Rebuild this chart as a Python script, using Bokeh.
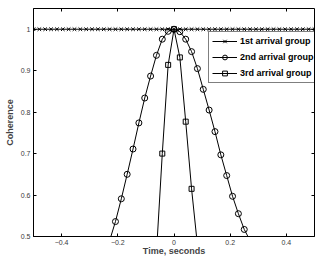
from bokeh.plotting import figure
from bokeh.models import LinearAxis, FixedTicker, Range1d, Legend, LegendItem
from bokeh.embed import file_html
from bokeh.resources import INLINE

# ---- data ----
t1 = [-0.5, -0.4792, -0.4583, -0.4375, -0.4167, -0.3958, -0.375, -0.3542, -0.3333,
      -0.3125, -0.2917, -0.2708, -0.25, -0.2292, -0.2083, -0.1875, -0.1667, -0.1458,
      -0.125, -0.1042, -0.0833, -0.0625, -0.0417, -0.0208, 0.0, 0.0208, 0.0417, 0.0625,
      0.0833, 0.1042, 0.125, 0.1458, 0.1667, 0.1875, 0.2083, 0.2292, 0.25, 0.2708,
      0.2917, 0.3125, 0.3333, 0.3542, 0.375, 0.3958, 0.4167, 0.4375, 0.4583, 0.4792, 0.5]
c1 = [1.0, 1.0, 1.0, 1.0, 1.0, 1.0, 1.0, 1.0, 1.0, 1.0, 1.0, 1.0, 1.0, 1.0, 1.0, 1.0,
      1.0, 1.0, 1.0, 1.0, 1.0, 1.0, 1.0, 1.0, 1.0, 1.0, 1.0, 1.0, 1.0, 1.0, 1.0, 1.0,
      1.0, 1.0, 1.0, 1.0, 1.0, 1.0, 1.0, 1.0, 1.0, 1.0, 1.0, 1.0, 1.0, 1.0, 1.0, 1.0, 1.0]

t2 = [-0.2292, -0.2083, -0.1875, -0.1667, -0.1458, -0.125, -0.1042, -0.0833, -0.0625,
      -0.0417, -0.0208, 0.0, 0.0208, 0.0417, 0.0625, 0.0833, 0.1042, 0.125, 0.1458,
      0.1667, 0.1875, 0.2083, 0.2292, 0.25, 0.2708]
c2 = [0.49, 0.536, 0.591, 0.650, 0.711, 0.774, 0.834, 0.887, 0.937, 0.976, 0.995, 1.0,
      0.994, 0.976, 0.946, 0.905, 0.855, 0.805, 0.753, 0.697, 0.647, 0.597, 0.555, 0.517, 0.49]

t3 = [-0.0625, -0.0417, -0.0208, 0.0, 0.0208, 0.0417, 0.0625, 0.0833]
c3 = [0.46, 0.70, 0.914, 1.0, 0.932, 0.777, 0.615, 0.48]

labels = ["1st arrival group", "2nd arrival group", "3rd arrival group"]

x_ticks = [-0.4, -0.2, 0, 0.2, 0.4]
x_tick_labels = ["\u22120.4", "\u22120.2", "0", "0.2", "0.4"]
y_ticks = [0.5, 0.6, 0.7, 0.8, 0.9, 1]
y_tick_labels = ["0.5", "0.6", "0.7", "0.8", "0.9", "1"]

x_label = "Time, seconds"
y_label = "Coherence"

X_MIN, X_MAX = -0.5, 0.5
Y_MIN, Y_MAX = 0.5, 1.05

# ---- figure ----
p = figure(width=315, height=258, output_backend="svg", toolbar_location=None,
           x_range=Range1d(X_MIN, X_MAX), y_range=Range1d(Y_MIN, Y_MAX),
           min_border_left=33, min_border_right=1, min_border_top=8, min_border_bottom=20)
p.xgrid.visible = False
p.ygrid.visible = False
p.outline_line_color = "black"
p.outline_line_width = 1
p.background_fill_color = "white"
p.border_fill_color = "white"

FONT = "Liberation Sans"

def style_axis(ax, ticks, labs, show_labels=True):
    ax.ticker = FixedTicker(ticks=ticks)
    ax.major_label_overrides = {t: l for t, l in zip(ticks, labs)}
    ax.minor_tick_line_color = None
    ax.major_tick_in = 3
    ax.major_tick_out = 0
    ax.major_tick_line_color = "black"
    ax.axis_line_color = "black"
    ax.major_label_text_font = FONT
    ax.major_label_text_color = "#3a3a3a"
    if show_labels:
        ax.major_label_text_font_size = "7px"
        ax.major_label_standoff = 3
    else:
        ax.major_label_text_font_size = "0px"
        ax.major_label_standoff = 0

xa = p.xaxis[0]
ya = p.yaxis[0]
style_axis(xa, x_ticks, x_tick_labels)
style_axis(ya, y_ticks, y_tick_labels)
xa.axis_label = x_label
ya.axis_label = y_label
for ax in (xa, ya):
    ax.axis_label_text_font = FONT
    ax.axis_label_text_font_style = "bold"
    ax.axis_label_text_font_size = "9px"
xa.axis_label_standoff = -2
ya.axis_label_standoff = 3

# box ticks on top and right (pinned inside the frame, taking no border space)
top = LinearAxis(fixed_location=Y_MAX)
style_axis(top, x_ticks, ["" for _ in x_ticks], show_labels=False)
top.axis_line_color = None
p.add_layout(top, "above")
right = LinearAxis(fixed_location=X_MAX)
style_axis(right, y_ticks, ["" for _ in y_ticks], show_labels=False)
right.axis_line_color = None
p.add_layout(right, "right")

# ---- series ----
l1 = p.line(t1, c1, line_color="black", line_width=1)
m1 = p.scatter(t1, c1, marker="x", size=5, line_color="black", line_width=1)
l2 = p.line(t2, c2, line_color="black", line_width=1)
m2 = p.scatter(t2, c2, marker="circle", size=6, line_color="black", line_width=1,
               fill_alpha=0)
l3 = p.line(t3, c3, line_color="black", line_width=1)
m3 = p.scatter(t3, c3, marker="square", size=5, line_color="black", line_width=1,
               fill_alpha=0)

legend = Legend(items=[LegendItem(label=labels[0], renderers=[l1, m1]),
                       LegendItem(label=labels[1], renderers=[l2, m2]),
                       LegendItem(label=labels[2], renderers=[l3, m3])],
                location=(175, 153), margin=0, padding=3, spacing=4,
                glyph_width=25, glyph_height=12, label_height=12, label_standoff=3,
                label_text_font=FONT, label_text_font_style="bold",
                label_text_font_size="9px", label_text_color="black",
                border_line_color="black", border_line_width=1,
                background_fill_color="white", background_fill_alpha=1)
p.add_layout(legend, "center")

open("out.html", "w").write(file_html(p, INLINE))
